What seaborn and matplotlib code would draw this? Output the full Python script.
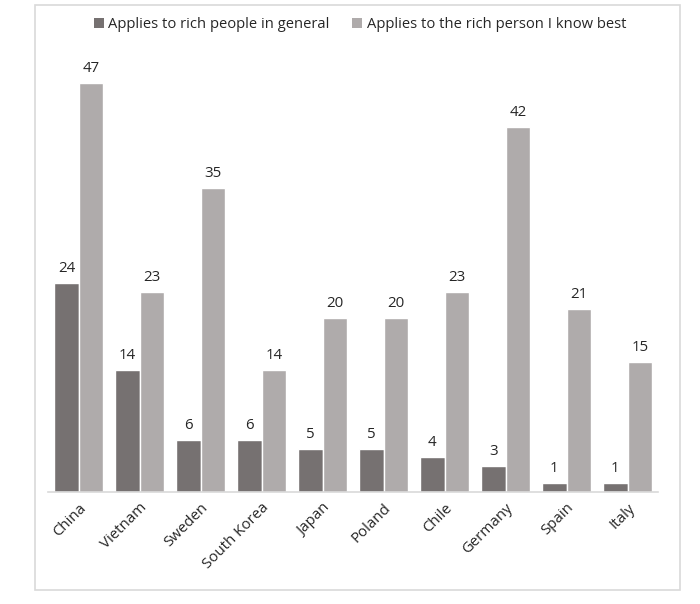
import matplotlib
matplotlib.use("Agg")
import matplotlib.pyplot as plt
import seaborn as sns
import pandas as pd
from matplotlib.patches import Rectangle, Patch

countries = ["China", "Vietnam", "Sweden", "South Korea", "Japan", "Poland",
             "Chile", "Germany", "Spain", "Italy"]
general = [24, 14, 6, 6, 5, 5, 4, 3, 1, 1]
known = [47, 23, 35, 14, 20, 20, 23, 42, 21, 15]
series = ["Applies to rich people in general", "Applies to the rich person I know best"]
colors = ["#767171", "#AFABAB"]

df = pd.DataFrame({
    "country": countries * 2,
    "value": general + known,
    "series": [series[0]] * len(countries) + [series[1]] * len(countries),
})

sns.set_theme(style="white")
plt.rcParams["font.family"] = ["Open Sans", "DejaVu Sans"]

fig = plt.figure(figsize=(7.0, 6.04), dpi=100)
ax = fig.add_axes([0.069, 0.1854, 0.871, 0.7202])

sns.barplot(data=df, x="country", y="value", hue="series", palette=colors,
            width=0.8, ax=ax, legend=False, saturation=1)

for c in ax.containers:
    ax.bar_label(c, padding=5, fontsize=10.8, color="#262626")

ax.set_ylim(0, 50)
ax.set_xlim(-0.5, len(countries) - 0.5)
ax.set_yticks([])
ax.set_xlabel("")
ax.set_ylabel("")
for s in ["top", "left", "right"]:
    ax.spines[s].set_visible(False)
ax.spines["bottom"].set_color("#D9D9D9")
ax.spines["bottom"].set_linewidth(1.2)
ax.set_xticks(range(len(countries)))
ax.set_xticklabels(countries, rotation=45, ha="right", rotation_mode="anchor",
                   fontsize=10.8, color="#262626")
ax.tick_params(axis="x", length=0, pad=6)

handles = [Patch(facecolor=colors[i], edgecolor="none", label=series[i]) for i in range(2)]
fig.legend(handles=handles, loc="center", bbox_to_anchor=(0.514, 0.959), ncol=2,
           frameon=False, fontsize=10.6, handlelength=0.7, handleheight=0.7,
           handletextpad=0.3, columnspacing=1.5, labelcolor="#262626")

fig.patches.append(Rectangle((0.05, 0.023), 0.921, 0.969, transform=fig.transFigure,
                             fill=False, edgecolor="#D9D9D9", linewidth=1.2))

fig.savefig("out.png", dpi=100)
